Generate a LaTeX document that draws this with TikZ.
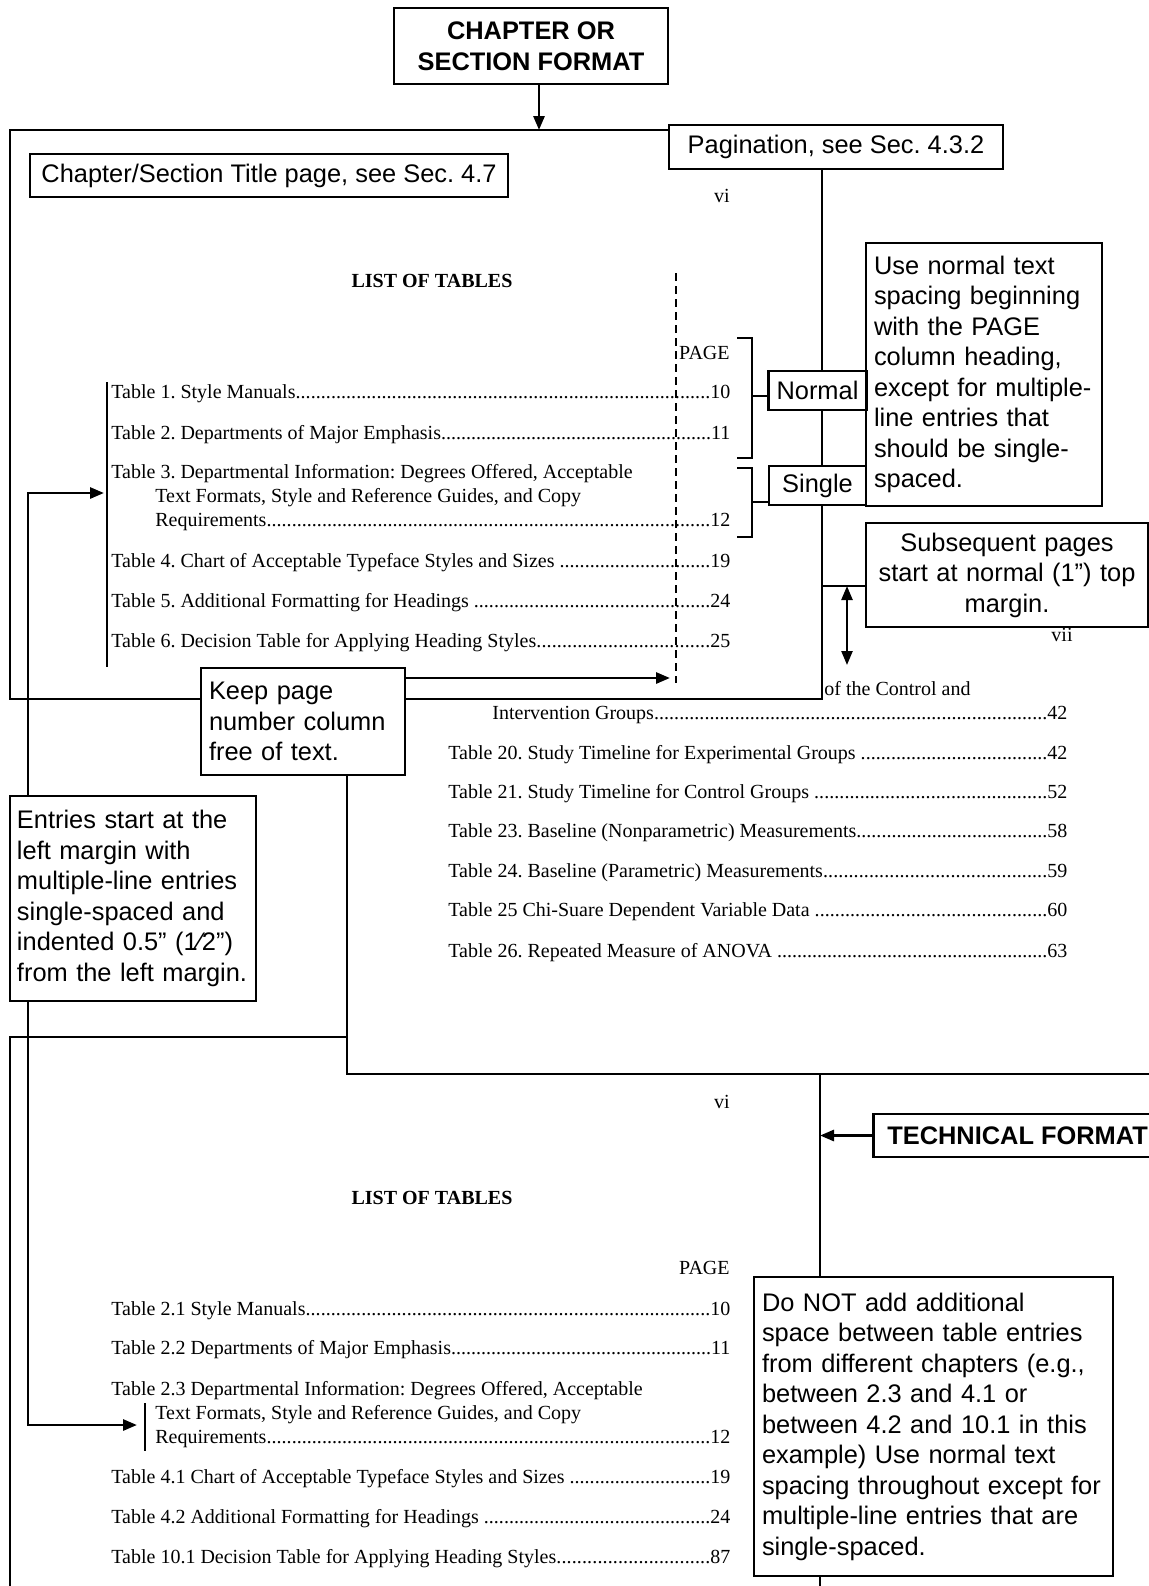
\documentclass[tikz,border=0pt]{standalone}
\usepackage{fontspec}
\setmainfont{Liberation Serif}
\setsansfont{Liberation Sans}
\usetikzlibrary{arrows.meta,positioning,backgrounds}
\frenchspacing

\newcommand{\notefont}{\sffamily\fontsize{12.7}{15.25}\selectfont\hyphenpenalty=10000\exhyphenpenalty=10000}
\newcommand{\lotfont}{\rmfamily\fontsize{10}{12.15}\selectfont}
\newcommand{\lotdots}{\xleaders\hbox{.}\hfill}
\newcommand{\lotrow}[2]{\hbox to 309.5pt{#1\lotdots#2}}

\begin{document}
\begin{tikzpicture}[x=0.5pt, y=-0.5pt, every node/.style={inner sep=0pt},
  note/.style={draw, line width=1.3pt, fill=white, font=\notefont, inner xsep=4pt, align=left},
  head/.style={note, font=\notefont\bfseries, align=center},
  lot/.style={anchor=base west, font=\lotfont},
  lothead/.style={anchor=base, font=\lotfont},
  pageedge/.style={line width=1.4pt},
  bar/.style={line width=0.9pt},
  arr/.style={line width=1.4pt, -{Triangle[length=7pt,width=5.5pt]}},
  dblarr/.style={line width=1.2pt, {Triangle[length=7pt,width=5.5pt]}-{Triangle[length=7pt,width=5.5pt]}}]

\useasboundingbox (0,0) rectangle (1149,1586);

% =========================
% CALLOUT BOXES
% =========================
\node[head, minimum width=137pt, minimum height=38pt] (chap) at (531,46) {CHAPTER OR\\SECTION FORMAT};
\node[note, minimum width=239pt, minimum height=21.5pt, align=center] (ttl) at (269,175.5) {Chapter/Section Title page, see Sec. 4.7};
\node[note, minimum width=167pt, minimum height=22pt, align=center] (pagin) at (836,147) {Pagination, see Sec. 4.3.2};
\node[note, text width=110pt, minimum height=131.5pt] (usenorm) at (984,374.5)
  {Use normal text\\spacing beginning\\with the PAGE\\column heading,\\except for multiple-\\line entries that\\should be single-\\spaced.};
\node[note, minimum width=48.5pt, minimum height=19.5pt, align=center] (normal) at (817.5,390.5) {Normal};
\node[note, minimum width=48.5pt, minimum height=19.5pt, align=center] (single) at (817.5,485.5) {Single};
\node[note, text width=133pt, minimum height=52pt, align=center] (subseq) at (1007,575)
  {Subsequent pages\\start at normal (1”) top\\margin.};
\node[note, text width=94pt, minimum height=53.5pt] (keep) at (303,721.5) {Keep page\\number column\\free of text.};
\node[note, text width=116pt, inner xsep=3.5pt, minimum height=102.5pt] (entries) at (133,898.5)
  {Entries start at the\\left margin with\\multiple-line entries\\single-spaced and\\indented 0.5” (1⁄2”)\\from the left margin.};
\node[head, anchor=west, inner xsep=7pt, minimum height=21.5pt] (tech) at (872,1135.5) {TECHNICAL FORMAT};
\node[note, text width=171.5pt, minimum height=149.5pt] (donot) at (933.5,1426.5)
  {Do NOT add additional\\space between table entries\\from different chapters (e.g.,\\between 2.3 and 4.1 or\\between 4.2 and 10.1 in this\\example) Use normal text\\spacing throughout except for\\multiple-line entries that are\\single-spaced.};

% =========================
% PAGE vi (CHAPTER FORMAT)
% =========================
\node[lothead] (numA) at (722,202) {vi};
\node[lothead, font=\lotfont\bfseries] (lotA) at (432,287) {LIST OF TABLES};
\node[lot, anchor=base east] (pageA) at (730,359) {PAGE};
\node[lot] (a1) at (111,398.5) {\lotrow{Table 1. Style Manuals}{10}};
\node[lot] (a2) at (111,439) {\lotrow{Table 2. Departments of Major Emphasis}{11}};
\node[lot] (a3) at (111,478) {\vtop{\hbox{Table 3. Departmental Information: Degrees Offered, Acceptable}
  \hbox{\hskip22pt Text Formats, Style and Reference Guides, and Copy}
  \lotrow{\hskip22pt Requirements}{12}}};
\node[lot] (a4) at (111,567) {\lotrow{Table 4. Chart of Acceptable Typeface Styles and Sizes }{19}};
\node[lot] (a5) at (111,607) {\lotrow{Table 5. Additional Formatting for Headings }{24}};
\node[lot] (a6) at (111,647) {\lotrow{Table 6. Decision Table for Applying Heading Styles}{25}};

% =========================
% PAGE vii (SUBSEQUENT PAGE)
% =========================
\node[lothead] (numB) at (1062,641) {vii};
\node[lot] (b19) at (824,695) {of the Control and};
\node[lot] (b19b) at (448,719) {\lotrow{\hskip22pt Intervention Groups}{42}};
\node[lot] (b20) at (448,759) {\lotrow{Table 20. Study Timeline for Experimental Groups }{42}};
\node[lot] (b21) at (448,798) {\lotrow{Table 21. Study Timeline for Control Groups }{52}};
\node[lot] (b23) at (448,837.5) {\lotrow{Table 23. Baseline (Nonparametric) Measurements}{58}};
\node[lot] (b24) at (448,877) {\lotrow{Table 24. Baseline (Parametric) Measurements}{59}};
\node[lot] (b25) at (448,916) {\lotrow{Table 25 Chi-Suare Dependent Variable Data }{60}};
\node[lot] (b26) at (448,957) {\lotrow{Table 26. Repeated Measure of ANOVA }{63}};

% =========================
% PAGE vi (TECHNICAL FORMAT)
% =========================
\node[lothead] (numC) at (722,1108) {vi};
\node[lothead, font=\lotfont\bfseries] (lotC) at (432,1204) {LIST OF TABLES};
\node[lot, anchor=base east] (pageC) at (730,1274) {PAGE};
\node[lot] (c21) at (111,1315) {\lotrow{Table 2.1 Style Manuals}{10}};
\node[lot] (c22) at (111,1354) {\lotrow{Table 2.2 Departments of Major Emphasis}{11}};
\node[lot] (c23) at (111,1395) {\vtop{\hbox{Table 2.3 Departmental Information: Degrees Offered, Acceptable}
  \hbox{\hskip22pt Text Formats, Style and Reference Guides, and Copy}
  \lotrow{\hskip22pt Requirements}{12}}};
\node[lot] (c41) at (111,1483) {\lotrow{Table 4.1 Chart of Acceptable Typeface Styles and Sizes }{19}};
\node[lot] (c42) at (111,1523) {\lotrow{Table 4.2 Additional Formatting for Headings }{24}};
\node[lot] (c101) at (111,1563) {\lotrow{Table 10.1 Decision Table for Applying Heading Styles}{87}};

% Corners and ends
\coordinate (p1tl) at (10,130);
\coordinate (p1br) at (822,699);
\coordinate (p1bl) at (10,699);
\coordinate (sj) at (822,586);
\coordinate (gapT) at (847,586);
\coordinate (gapB) at (847,665);
\coordinate (p2bl) at (347,1074);
\coordinate (p2br) at (1152,1074);
\coordinate (p3tr) at (347,1037);
\coordinate (p3tl) at (10,1037);
\coordinate (p3bot) at (10,1590);
\coordinate (p3r) at (820,1074);
\coordinate (p3rbot) at (820,1590);
\coordinate (trunk) at (28,0);
\coordinate (ent3) at (104,493);
\coordinate (ent23) at (137,1425);
\coordinate (colmark) at (670,678);
\coordinate (nbmid) at (752,396);
\coordinate (sbmid) at (752,502);

\begin{scope}[on background layer]
% Page outlines
\draw[pageedge] (pagin.west |- p1tl) -- (p1tl) -- (p1bl) -- (keep.west |- p1bl);
\draw[pageedge] (pagin.south -| p1br) -- (p1br) -- (keep.east |- p1br);
\draw[pageedge] (keep.south -| p2bl) -- (p2bl) -- (p2br);
\draw[pageedge] (p3tr) -- (p3tl) -- (p3bot);
\draw[pageedge] (p3r) -- (p3rbot);

% Page number column
\draw[line width=1.3pt, dash pattern=on 4pt off 2.5pt] (676,273) -- (676,683);

% Entry bars
\draw[bar] (107,382) -- (107,667);
\draw[bar] (145,1403) -- (145,1451);

% Spacing brackets
\draw[bar] (737,338) -| (752,458) -- (737,458);
\draw[bar] (737,468) -| (752,537) -- (737,537);
\draw[bar] (nbmid) -- (normal.west |- nbmid);
\draw[bar] (sbmid) -- (single.west |- sbmid);

% Connectors
\draw[arr] ([xshift=4pt]chap.south) -- ([xshift=4pt]chap.south |- p1tl);
\draw[arr] (keep.east |- colmark) -- (colmark);
\draw[pageedge] (sj) -- (sj -| subseq.west);
\draw[dblarr] (gapT) -- (gapB);
\draw[arr] (tech.west) -- (tech.west -| p3r);
\draw[arr] (entries.north -| trunk) |- (ent3);
\draw[arr] (entries.south -| trunk) |- (ent23);
\end{scope}

\end{tikzpicture}
\end{document}
